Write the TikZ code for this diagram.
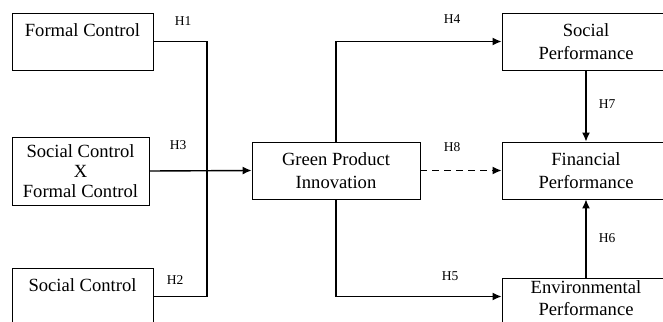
\documentclass[tikz,border=0pt]{standalone}
\usepackage{fontspec}
\setmainfont{Liberation Serif}
\usetikzlibrary{arrows.meta}
\tikzset{boite/.style={shape=rectangle,draw,line width=0.8pt,inner sep=2pt,align=center,font=\fontsize{18.6}{22.3}\selectfont}}
\tikzset{hyp/.style={font=\fontsize{13.5}{16}\selectfont}}
\tikzset{plein/.style={line width=1.4pt,>={Latex[length=9pt,width=8pt]}}}

\begin{document}
\begin{tikzpicture}[x=1pt,y=-1pt]
\clip (0,0) rectangle (663,321);
\node(FC) at (82.5,41.5) [boite,minimum width=141,minimum height=57] {Formal Control\\ \mbox{}};
\node(SFC) at (80.5,171) [boite,minimum width=137,minimum height=68] {Social Control\\[-2pt]X\\[-2pt]Formal Control};
\node(SC) at (82.5,296.5) [boite,minimum width=141,minimum height=57] {Social Control\\ \mbox{}};
\node(GPI) at (336,170.5) [boite,minimum width=168,minimum height=57] {Green Product\\Innovation};
\node(SP) at (586,41.5) [boite,minimum width=168,minimum height=57] {Social\\Performance};
\node(FP) at (586,170.5) [boite,minimum width=168,minimum height=57] {Financial\\Performance};
\node(EP) at (586,278) [boite,anchor=north,minimum width=168,minimum height=57] {Environmental\\Performance\\ \mbox{}};
\coordinate(J) at (207,171);

\node(H1) at (183,21) [hyp] {H1};
\node(H3) at (178,145) [hyp] {H3};
\node(H2) at (175,280) [hyp] {H2};
\node(H4) at (452,19) [hyp] {H4};
\node(H8) at (452,147) [hyp] {H8};
\node(H5) at (450,276) [hyp] {H5};
\node(H7) at (607,104) [hyp] {H7};
\node(H6) at (607,238) [hyp] {H6};

\draw[plein] (FC.east) -| (J) |- (SC.east);
\draw[->,plein] (SFC.east)--(GPI.west);
\draw[->,plein] (GPI.north) |- (SP.west);
\draw[->,plein] (GPI.south) |- (EP.west |- SC.east);
\draw[->,plein,dash pattern=on 7pt off 5pt] (GPI.east)--(FP.west);
\draw[->,plein] (SP.south)--(FP.north);
\draw[->,plein] (EP.north)--(FP.south);
\end{tikzpicture}
\end{document}
